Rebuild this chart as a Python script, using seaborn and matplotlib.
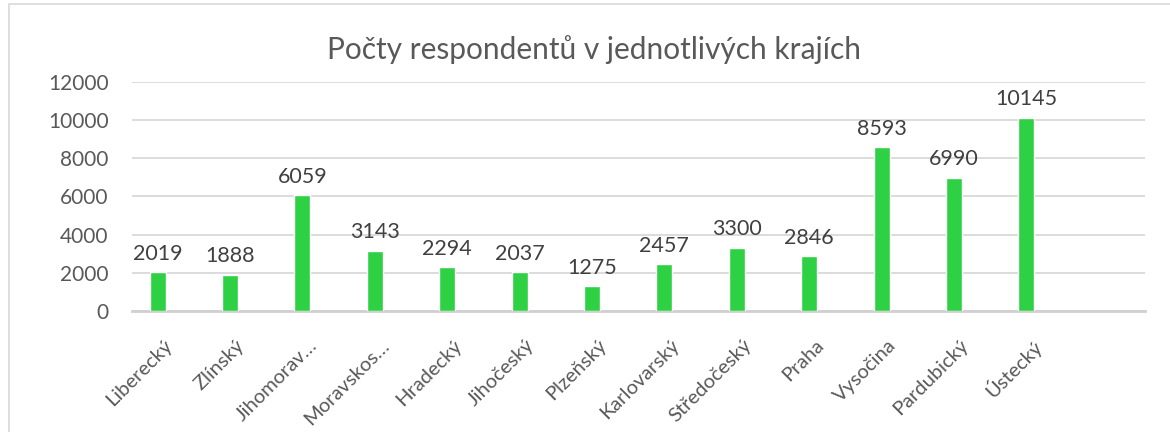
import seaborn as sns
import matplotlib.pyplot as plt
from matplotlib.patches import Rectangle
from matplotlib.transforms import ScaledTranslation

kraje = ['Liberecký', 'Zlínský', 'Jihomorav…', 'Moravskos…', 'Hradecký', 'Jihočeský',
         'Plzeňský', 'Karlovarský', 'Středočeský', 'Praha', 'Vysočina', 'Pardubický', 'Ústecký']
pocty = [2019, 1888, 6059, 3143, 2294, 2037, 1275, 2457, 3300, 2846, 8593, 6990, 10145]
y_ticks = [0, 2000, 4000, 6000, 8000, 10000, 12000]

sns.set_style('white')
plt.rcParams['font.family'] = ['Lato', 'DejaVu Sans']
seda = '#595959'

fig = plt.figure(figsize=(11.7, 4.32), dpi=100)
ax = fig.add_axes([0.113, 0.281, 0.8657, 0.5285])

sns.barplot(x=kraje, y=pocty, color='#2ED143', width=0.22, saturation=1, ax=ax, zorder=3)
ax.bar_label(ax.containers[0], padding=6, fontsize=15.5, color='#404040')

ax.set_ylim(0, 12000)
ax.set_xlim(-0.35, 13.64)
ax.set_yticks(y_ticks)
ax.yaxis.grid(True, color='#d9d9d9', linewidth=1.3, zorder=0)
ax.tick_params(axis='y', labelsize=15, labelcolor=seda, length=0, pad=17)
ax.tick_params(axis='x', labelsize=14.5, labelcolor=seda, length=0, pad=0)
posun = ScaledTranslation(0.12, -0.32, fig.dpi_scale_trans)
for lab in ax.get_xticklabels():
    lab.set_rotation(45)
    lab.set_ha('right')
    lab.set_va('center')
    lab.set_rotation_mode('anchor')
    lab.set_transform(lab.get_transform() + posun)
for s in ['top', 'right', 'left']:
    ax.spines[s].set_visible(False)
ax.spines['bottom'].set_color('#d0d0d0')
ax.spines['bottom'].set_linewidth(2)
fig.suptitle('Počty respondentů v jednotlivých krajích', x=0.508, y=0.885,
             fontsize=21.5, color=seda, va='center')

fig.patches.append(Rectangle((0.008, -0.01), 1.0, 1.0, transform=fig.transFigure,
                             fill=False, edgecolor='#d9d9d9', linewidth=1.2))

fig.savefig('out.png', dpi=100)
